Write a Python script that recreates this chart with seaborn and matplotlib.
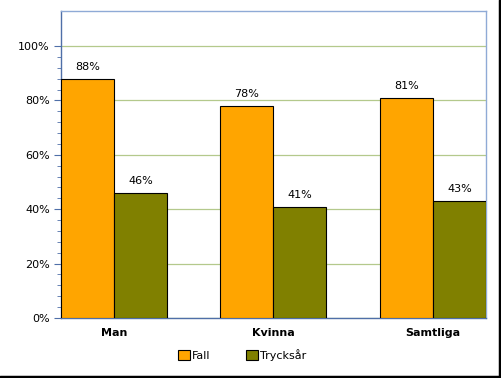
import pandas as pd
import matplotlib
matplotlib.use("Agg")
import matplotlib.pyplot as plt
from matplotlib.lines import Line2D
from matplotlib.patches import Patch
from matplotlib.ticker import FixedLocator, FuncFormatter
import seaborn as sns

# ---------------- DATA ----------------
categories = ["Man", "Kvinna", "Samtliga"]
series = ["Fall", "Trycksår"]
fall = [88, 78, 81]
trycksar = [46, 41, 43]
colors = ["#FFA500", "#808000"]
# --------------------------------------

df = pd.DataFrame({
    "kategori": categories * 2,
    "serie": [series[0]] * 3 + [series[1]] * 3,
    "varde": fall + trycksar,
})

sns.set_style("white")
plt.rcParams["font.family"] = ["DejaVu Sans"]
plt.rcParams["text.color"] = "black"
plt.rcParams["xtick.color"] = "black"
plt.rcParams["ytick.color"] = "black"

fig = plt.figure(figsize=(5.02, 3.78), dpi=100)
ax = fig.add_axes([0.1215, 0.1587, 0.8465, 0.8123])

sns.barplot(data=df, x="kategori", y="varde", hue="serie", order=categories,
            hue_order=series, palette=colors, saturation=1, width=0.665, gap=0,
            edgecolor="black", linewidth=0.8, ax=ax, legend=False, zorder=3)

for cont in ax.containers:
    ax.bar_label(cont, labels=[f"{v:.0f}%" for v in cont.datavalues],
                 padding=5, fontsize=8, color="black")

ax.set_xlim(-0.3325, 2.3325)
ax.set_ylim(0, 112.9)
ax.yaxis.set_major_locator(FixedLocator(range(0, 101, 20)))
ax.yaxis.set_minor_locator(FixedLocator(range(0, 101, 4)))
ax.yaxis.set_major_formatter(FuncFormatter(lambda v, p: f"{v:.0f}%"))
ax.set_xlabel("")
ax.set_ylabel("")
ax.grid(axis="y", color="#b4c98c", linewidth=0.9, zorder=0)
ax.set_axisbelow(True)

ax.tick_params(axis="y", which="major", left=True, length=5, color="#4f6fa8",
               labelcolor="black", labelsize=8, pad=3)
ax.tick_params(axis="y", which="minor", left=True, length=3, color="#4f6fa8")
ax.tick_params(axis="x", bottom=False, labelsize=8, pad=4, labelcolor="black")
for lab in ax.get_xticklabels():
    lab.set_fontweight("bold")

ax.spines["left"].set_color("#4f6fa8")
ax.spines["bottom"].set_color("#4f6fa8")
ax.spines["top"].set_color("#8faad6")
ax.spines["right"].set_color("#8faad6")
for s in ax.spines.values():
    s.set_linewidth(1)

handles = [Patch(facecolor=c, edgecolor="black", linewidth=0.8) for c in colors]
fig.legend(handles, series, loc="center", bbox_to_anchor=(0.482, 0.061), ncol=2,
           frameon=False, fontsize=8, handlelength=1.1, handleheight=1.1,
           handletextpad=0.15, columnspacing=3.2)

# dark frame on right and bottom edge
fig.add_artist(Line2D([0, 1], [0.003, 0.003], color="black", linewidth=2.5,
                      transform=fig.transFigure))
fig.add_artist(Line2D([0.997, 0.997], [0, 1], color="black", linewidth=2.5,
                      transform=fig.transFigure))

fig.savefig("out.png", dpi=100)
